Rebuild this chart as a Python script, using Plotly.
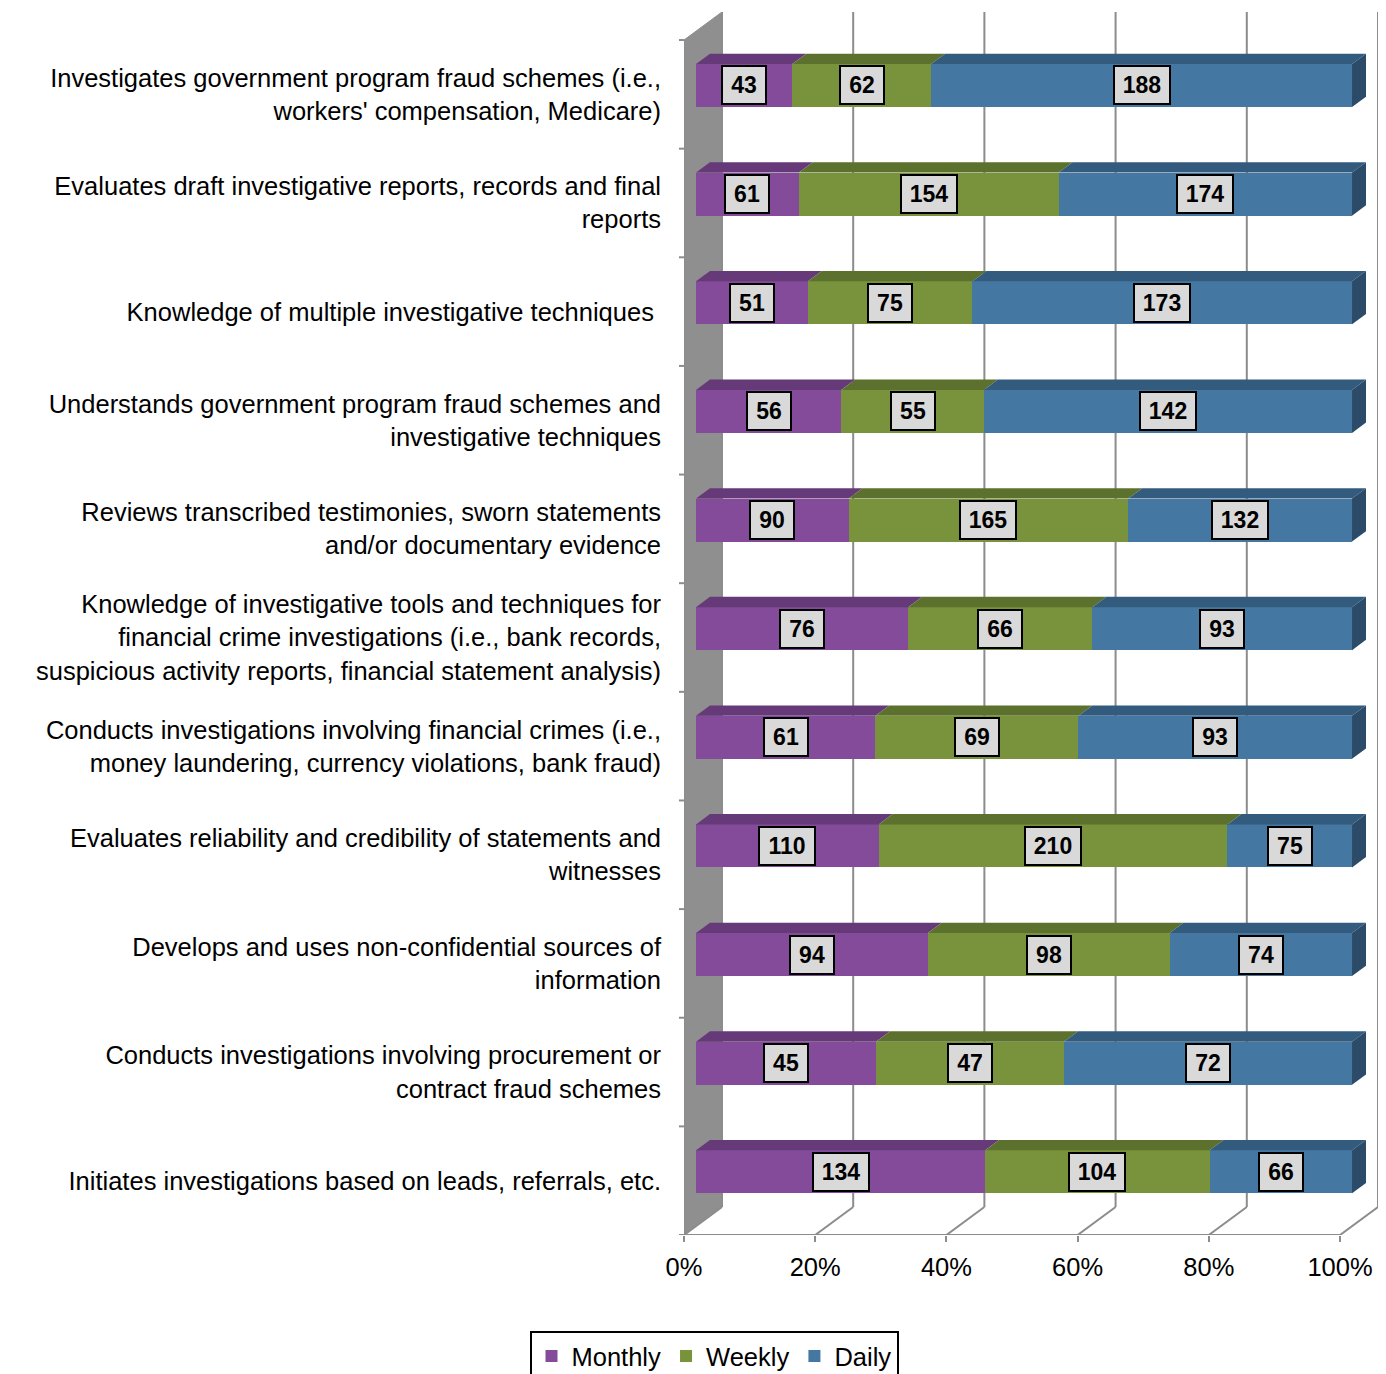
import plotly.graph_objects as go

# ---------------- data ----------------
categories = [
    "Investigates government program fraud schemes (i.e.,<br>workers' compensation, Medicare)",
    "Evaluates draft investigative reports, records and final<br>reports",
    "Knowledge of multiple investigative techniques ",
    "Understands government program fraud schemes and<br>investigative techniques",
    "Reviews transcribed testimonies, sworn statements<br>and/or documentary evidence",
    "Knowledge of investigative tools and techniques for<br>financial crime investigations (i.e., bank records,<br>suspicious activity reports, financial statement analysis)",
    "Conducts investigations involving financial crimes (i.e.,<br>money laundering, currency violations, bank fraud)",
    "Evaluates reliability and credibility of statements and<br>witnesses",
    "Develops and uses non-confidential sources of<br>information",
    "Conducts investigations involving procurement or<br>contract fraud schemes",
    "Initiates investigations based on leads, referrals, etc.",
]
monthly = [43, 61, 51, 56, 90, 76, 61, 110, 94, 45, 134]
weekly = [62, 154, 75, 55, 165, 66, 69, 210, 98, 47, 104]
daily = [188, 174, 173, 142, 132, 93, 93, 75, 74, 72, 66]
series_names = ["Monthly", "Weekly", "Daily"]
x_ticks = [0, 20, 40, 60, 80, 100]
x_tick_labels = ["0%", "20%", "40%", "60%", "80%", "100%"]

# ---------------- styles ----------------
front_colors = ["#834B99", "#78933B", "#4477A1"]
top_colors = ["#663A78", "#5C712D", "#335B7D"]
side_color = "#2B4B68"
grid_color = "#8C8C8C"
wall_color = "#8F8F8F"
FONT = "Liberation Sans, Arial, sans-serif"
TXT = 25.5

# 3D projection constants (in data units)
DX = 5.79      # full depth, x direction (percent units)
DY = 0.258     # full depth, y direction (row units)
F0, F1 = 0.316, 0.684   # bar front / back depth fractions
BAR_H = 0.396
PX_X = 6.56    # pixels per percent
PX_Y = 108.6   # pixels per row

n = len(categories)
rows = list(range(n))
series = [monthly, weekly, daily]
totals = [sum(s[i] for s in series) for i in rows]
pct = [[s[i] / totals[i] * 100 for i in rows] for s in series]


def fx(v):
    return v - F0 * DX


def fy(r):
    return r + F0 * DY


def bx(v):
    return fx(v) + DX


def by(r):
    return fy(r) - DY


fig = go.Figure()
for k, name in enumerate(series_names):
    fig.add_trace(go.Bar(
        y=rows, x=pct[k], orientation="h", name=name,
        marker=dict(color=front_colors[k], line=dict(width=0)),
        width=BAR_H, hoverinfo="skip",
    ))

shapes = []
# back wall (left side)
shapes.append(dict(
    type="path", xref="x", yref="y", layer="below",
    path=f"M{fx(0)},{fy(n-0.5)} L{fx(0)},{fy(-0.5)} L{bx(0)},{by(-0.5)} L{bx(0)},{by(n-0.5)} Z",
    fillcolor=wall_color, line=dict(color=wall_color, width=1),
))
# gridlines on back plane + floor diagonals
for v in x_ticks:
    shapes.append(dict(type="line", xref="x", yref="y", layer="below",
                       x0=bx(v), x1=bx(v), y0=by(-0.5), y1=by(n - 0.5),
                       line=dict(color=grid_color, width=2)))
    shapes.append(dict(type="line", xref="x", yref="y", layer="below",
                       x0=fx(v), x1=bx(v), y0=fy(n - 0.5), y1=by(n - 0.5),
                       line=dict(color=grid_color, width=2)))
# front axis lines
shapes.append(dict(type="line", xref="x", yref="y", layer="below",
                   x0=fx(0), x1=fx(100), y0=fy(n - 0.5), y1=fy(n - 0.5),
                   line=dict(color=grid_color, width=2)))
shapes.append(dict(type="line", xref="x", yref="y", layer="below",
                   x0=fx(0), x1=fx(0), y0=fy(-0.5), y1=fy(n - 0.5),
                   line=dict(color=grid_color, width=2)))
for r in range(n + 1):
    shapes.append(dict(type="line", xref="paper", yref="y",
                       x0=-5 / (PX_X * (100 + DX)), x1=0, y0=fy(r - 0.5), y1=fy(r - 0.5),
                       line=dict(color=grid_color, width=2)))

# bar top faces and right side faces
dDX = (F1 - F0) * DX
dDY = (F1 - F0) * DY
annotations = []
for r in rows:
    y_top = r - BAR_H / 2
    y_bot = r + BAR_H / 2
    cum = 0.0
    for k in range(len(series)):
        x0, x1 = cum, cum + pct[k][r]
        shapes.append(dict(
            type="path", xref="x", yref="y", layer="above",
            path=f"M{x0},{y_top} L{x1},{y_top} L{x1+dDX},{y_top-dDY} L{x0+dDX},{y_top-dDY} Z",
            fillcolor=top_colors[k], line=dict(width=0),
        ))
        txt = str(series[k][r])
        annotations.append(dict(
            x=(x0 + x1) / 2, y=r, xref="x", yref="y", text=txt, showarrow=False,
            font=dict(family=FONT, size=23, color="black", weight="bold"),
            bgcolor="#D9D9D9", bordercolor="black", borderwidth=2, borderpad=5,
            width=len(txt) * 12 + 8, align="center",
        ))
        cum = x1
    shapes.append(dict(
        type="path", xref="x", yref="y", layer="above",
        path=f"M{cum},{y_top} L{cum},{y_bot} L{cum+dDX},{y_bot-dDY} L{cum+dDX},{y_top-dDY} Z",
        fillcolor=side_color, line=dict(width=0),
    ))

x_lo, x_hi = fx(0), bx(100)
y_lo, y_hi = fy(n - 0.5), by(-0.5)
plot_w = (x_hi - x_lo) * PX_X
plot_h = (y_lo - y_hi) * PX_Y
left = 684
top = 12
W, H = 1386, 1374

fig.update_layout(
    width=W, height=H,
    margin=dict(l=left, r=W - left - plot_w, t=top, b=H - top - plot_h, pad=0, autoexpand=False),
    barmode="stack", bargap=0,
    plot_bgcolor="white", paper_bgcolor="white",
    font=dict(family=FONT, size=TXT, color="black"),
    shapes=shapes, annotations=annotations,
    showlegend=True,
    legend=dict(
        orientation="h", traceorder="normal",
        xref="container", yref="container",
        x=714 / W, xanchor="center",
        y=(H - 1331) / H, yanchor="top",
        bordercolor="black", borderwidth=2,
        font=dict(family=FONT, size=TXT, color="black"),
        itemwidth=30,
    ),
    xaxis=dict(
        range=[x_lo, x_hi], showgrid=False, zeroline=False, showline=False,
        tickmode="array", tickvals=[fx(v) for v in x_ticks], ticktext=x_tick_labels,
        ticks="outside", ticklen=6, tickwidth=2, tickcolor=grid_color,
        tickfont=dict(family=FONT, size=TXT, color="black"),
        ticklabelstandoff=3, fixedrange=True, automargin=False,
    ),
    yaxis=dict(
        range=[y_lo, y_hi], showgrid=False, zeroline=False, showline=False,
        tickmode="array", tickvals=[fy(r) for r in rows], ticktext=categories,
        ticks="", tickfont=dict(family=FONT, size=TXT, color="black"),
        ticklabelstandoff=22, fixedrange=True, automargin=False,
    ),
)

fig.write_html("out.html")
